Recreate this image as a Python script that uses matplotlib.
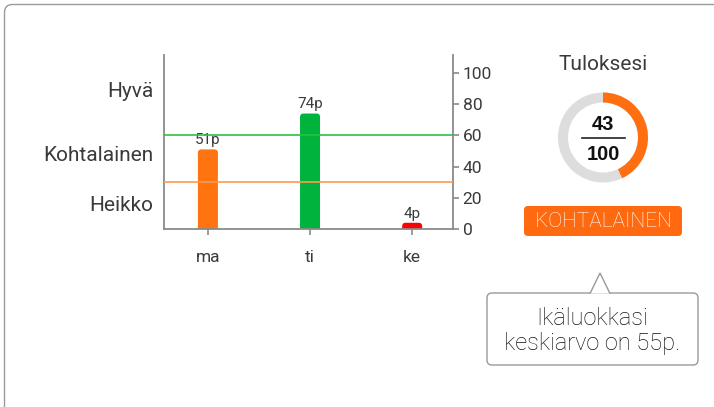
import matplotlib
matplotlib.use("Agg")
import matplotlib.pyplot as plt
from matplotlib.patches import FancyBboxPatch, Wedge, Polygon
import matplotlib.transforms as mtransforms

plt.rcParams['font.family'] = ['Roboto', 'DejaVu Sans']

# ---- data ----
days = ["ma", "ti", "ke"]
scores = [51, 74, 4]
bar_colors = ["#FF7311", "#00B33C", "#FF0000"]
level_labels = ["Hyvä", "Kohtalainen", "Heikko"]
level_label_pos = [88, 47, 15]
good_threshold = 60
weak_threshold = 30
yticks = [0, 20, 40, 60, 80, 100]
result = 43
result_max = 100
result_level = "KOHTALAINEN"
title = "Tuloksesi"
callout_text = "Ikäluokkasi\nkeskiarvo on 55p."

TXT = "#3a3a3a"
FW = "normal"
W, H = 714, 407
fig = plt.figure(figsize=(W / 100, H / 100), dpi=100)
fig.patch.set_facecolor("white")

# overlay axes in pixel coordinates
ov = fig.add_axes([0, 0, 1, 1], zorder=0)
ov.set_xlim(0, W)
ov.set_ylim(H, 0)
ov.axis("off")

# outer frame
ov.add_patch(FancyBboxPatch((4.5, 4.5), 760, 460, boxstyle="round,pad=0,rounding_size=8",
                            fc="white", ec="#9a9a9a", lw=1.0))

# ---- bar chart ----
ax = fig.add_axes([164 / W, 1 - 229 / H, (453 - 164) / W, (229 - 55) / H], zorder=1)
ax.set_facecolor("none")
ax.set_xlim(-0.43, 2.4)
ax.set_ylim(0, 111.5)

px_x = (453 - 164) / (2.4 + 0.43)  # px per x unit
px_y = (229 - 55) / 111.5           # px per y unit
bw = 20 / px_x
r_x = 3.5 / px_x
r_y = 3.5 / px_y
for i, (v, c) in enumerate(zip(scores, bar_colors)):
    p = FancyBboxPatch((i - bw / 2, -5), bw, v + 5,
                       boxstyle=f"round,pad=0,rounding_size={r_x}",
                       mutation_aspect=r_y / r_x, fc=c, ec="none", zorder=2)
    ax.add_patch(p)
    ax.text(i, v + 1.3, f"{v}p", ha="center", va="bottom", fontsize=11,
            color=TXT, fontweight=FW)

ax.axhline(good_threshold, color="#2DC043", lw=1.2, zorder=3)
ax.axhline(weak_threshold, color="#FF9A4D", lw=1.2, zorder=3)

ax.spines["top"].set_visible(False)
for sp in ["left", "right", "bottom"]:
    ax.spines[sp].set_color("#8a8a8a")
    ax.spines[sp].set_linewidth(1.3)

ax.yaxis.tick_right()
ax.set_yticks(yticks)
ax.set_yticklabels([str(t) for t in yticks], fontsize=12.5, color=TXT, fontweight=FW)
ax.tick_params(axis="y", length=4, width=1.2, color="#8a8a8a", pad=3)
ax.set_xticks(range(len(days)))
ax.set_xticklabels(days, fontsize=12.5, color=TXT, fontweight=FW)
ax.tick_params(axis="x", length=4, width=1.2, color="#8a8a8a", pad=11)

trans = mtransforms.blended_transform_factory(ax.transAxes, ax.transData)
for lab, y in zip(level_labels, level_label_pos):
    ax.text(-0.038, y, lab, transform=trans, ha="right", va="center", fontsize=15,
            color=TXT, fontweight=FW)

# ---- gauge ----
cx, cy, R, wid = 603, 137.5, 45, 10
ov.text(cx, 65, title, ha="center", va="center", fontsize=15, color=TXT, fontweight=FW)
ov.add_patch(Wedge((cx, cy), R, 0, 360, width=wid, fc="#DDDDDD", ec="none"))
frac = result / result_max
# y axis is inverted in pixel coords: angles go clockwise visually
ov.add_patch(Wedge((cx, cy), R, -90, -90 + 360 * frac, width=wid, fc="#FF6F10", ec="none"))
ov.text(cx, 125, str(result), ha="center", va="center", fontsize=14.5, fontweight="bold",
        family=["Liberation Sans", "DejaVu Sans"], color="#111111")
ov.plot([582, 625], [138, 138], color="#222222", lw=1.2)
ov.text(cx, 155, str(result_max), ha="center", va="center", fontsize=14.5, fontweight="bold",
        family=["Liberation Sans", "DejaVu Sans"], color="#111111")

# level badge
ov.add_patch(FancyBboxPatch((524, 206), 158, 30, boxstyle="round,pad=0,rounding_size=4",
                            fc="#FF6A10", ec="none"))
ov.text(603, 221.5, result_level, ha="center", va="center", fontsize=15, color="white",
        fontweight="light")

# callout
ov.add_patch(FancyBboxPatch((487, 293), 211, 72, boxstyle="round,pad=0,rounding_size=5",
                            fc="white", ec="#9a9a9a", lw=1.0))
ov.add_patch(Polygon([[590, 293.6], [600, 273], [610, 293.6]], closed=False,
                     fc="white", ec="#9a9a9a", lw=1.0, zorder=3))
ov.text(592, 331, callout_text, ha="center", va="center", fontsize=17, color="#111111",
        fontweight="light", linespacing=1.15)

fig.savefig("out.png", dpi=100)
